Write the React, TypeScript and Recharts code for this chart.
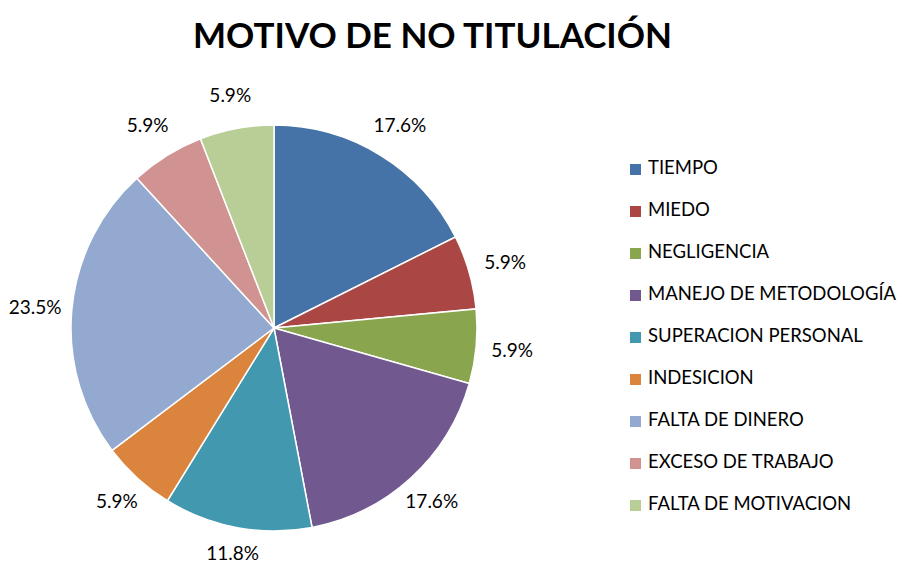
import { PieChart, Pie, Cell, Legend } from 'recharts'

const CATEGORIES = [
  'TIEMPO',
  'MIEDO',
  'NEGLIGENCIA',
  'MANEJO DE METODOLOGÍA',
  'SUPERACION PERSONAL',
  'INDESICION',
  'FALTA DE DINERO',
  'EXCESO DE TRABAJO',
  'FALTA DE MOTIVACION',
]

const PERCENTS = [17.6, 5.9, 5.9, 17.6, 11.8, 5.9, 23.5, 5.9, 5.9]

const COLORS = [
  '#4572A7',
  '#AA4643',
  '#89A54E',
  '#71588F',
  '#4198AF',
  '#DB843D',
  '#93A9CF',
  '#D19392',
  '#B9CD96',
]

const FONT = 'Lato, "Open Sans", sans-serif'
const RAD = Math.PI / 180

const data = CATEGORIES.map((name, i) => ({ name, value: PERCENTS[i] }))

// labels sit outside the slice; side labels need a bit more room (wider than tall)
function renderLabel(props: any) {
  const { cx, cy, midAngle, outerRadius, value } = props
  const c = Math.cos(-midAngle * RAD)
  const s = Math.sin(-midAngle * RAD)
  const r = outerRadius + 28.5 + 8 * Math.abs(c) - 4.5 * s
  const x = cx + r * c
  const y = cy + r * s
  return (
    <text
      x={x}
      y={y}
      textAnchor="middle"
      dominantBaseline="central"
      fill="#000"
      style={{ fontFamily: FONT, fontSize: 19 }}
    >
      {value.toFixed(1)}%
    </text>
  )
}

function LegendList() {
  return (
    <div style={{ fontFamily: FONT, fontSize: 18.5, color: '#000', whiteSpace: 'nowrap' }}>
      {CATEGORIES.map((name, i) => (
        <div key={name} style={{ display: 'flex', alignItems: 'center', height: 42 }}>
          <span
            style={{
              display: 'inline-block',
              width: 11,
              height: 11,
              background: COLORS[i],
              marginRight: 7,
              marginTop: 4,
            }}
          />
          <span>{name}</span>
        </div>
      ))}
    </div>
  )
}

export default function App() {
  return (
    <div style={{ position: 'absolute', left: 0, top: 0, width: 900, height: 564, background: '#fff' }}>
      <div
        style={{
          position: 'absolute',
          left: 0,
          top: 17,
          width: 865,
          textAlign: 'center',
          fontFamily: FONT,
          fontWeight: 700,
          fontSize: 35,
          lineHeight: '35px',
          color: '#000',
        }}
      >
        MOTIVO DE NO TITULACIÓN
      </div>
      <PieChart width={900} height={564} margin={{ top: 0, right: 0, bottom: 0, left: 0 }}>
        <Pie
          data={data}
          dataKey="value"
          nameKey="name"
          cx={274}
          cy={328}
          outerRadius={203}
          startAngle={90}
          endAngle={-270}
          stroke="#fff"
          strokeWidth={1.5}
          label={renderLabel}
          labelLine={false}
          isAnimationActive={false}
        >
          {data.map((d, i) => (
            <Cell key={d.name} fill={COLORS[i]} />
          ))}
        </Pie>
        <Legend
          layout="vertical"
          content={() => <LegendList />}
          wrapperStyle={{ left: 630, top: 146, width: 270 }}
        />
      </PieChart>
    </div>
  )
}
